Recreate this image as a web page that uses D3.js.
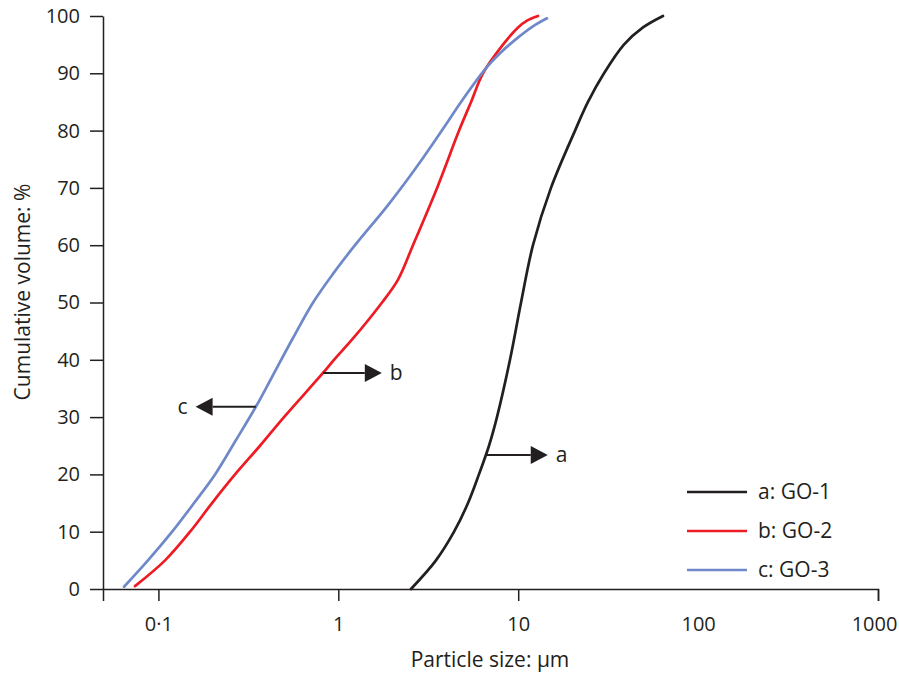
<!DOCTYPE html>
<html>
<head>
<meta charset="utf-8">
<script src="https://cdn.jsdelivr.net/npm/d3@7"></script>
<style>
  html, body { margin: 0; padding: 0; background: #fff; }
  svg { display: block; }
  text { font-family: "Open Sans", "Noto Sans", sans-serif; fill: #231f20; }
</style>
</head>
<body>
<svg id="chart" width="899" height="674"></svg>
<script>
// Cumulative particle size distributions of three graphene oxide samples
const seriesNames = ["a: GO-1", "b: GO-2", "c: GO-3"];
const seriesKeys = ["a", "b", "c"];
const seriesColors = ["#231f20", "#ed1c24", "#6f89c8"];

// particle size (µm) and cumulative volume (%) for each sample
const go1Size   = [2.535, 3.49, 4.40, 5.26, 6.05, 6.88, 7.62, 9.00, 10.37, 12.08, 15.21, 20.70, 24.43, 29.99, 38.7, 49.4, 63.8];
const go1Volume = [0,     5,    10,   15,   20,   25,   30,   40,   50,    60,    70,    80,    85,    90,    95,   98,   100];

const go2Size   = [0.0741, 0.1089, 0.150, 0.1986, 0.2667, 0.367, 0.499, 0.822, 0.946, 1.191, 1.750, 2.148, 2.600, 3.54, 4.69, 5.47, 6.37, 8.23, 9.98, 11.19, 12.88];
const go2Volume = [0.5,    5,      10,    15,     20,     25,    30,    37.7,  40,    43.5,  50,    54,    60,    70,   80,   85,   90,   95,   98,   99.2,  100];

const go3Size   = [0.0644, 0.0875, 0.1192, 0.1578, 0.2065, 0.270, 0.348, 0.428, 0.553, 0.724, 0.934, 1.238, 1.889, 2.773, 4.07, 4.81, 6.62, 7.92, 9.84, 12.08, 14.45];
const go3Volume = [0.4,    5,      10,     15,     20,     26,    31.8,  37,    43.5,  50,    55,    60,    67,    74,    81.6, 85,   90.9, 93.5, 96.1, 98.2,  99.6];

// callout arrows: start on the curve, tip at the label side
const arrowFrom  = [6.62, 0.822, 0.348];
const arrowTo    = [14.6, 1.745, 0.161];
const arrowLevel = [23.4, 37.7, 31.8];

const xTickValues = [0.1, 1, 10, 100, 1000];
const xTickLabels = ["0·1", "1", "10", "100", "1000"];
const yTickValues = [0, 10, 20, 30, 40, 50, 60, 70, 80, 90, 100];

const svg = d3.select("#chart");
const ink = "#231f20";
const font = "'Open Sans', 'Noto Sans', sans-serif";

const x = d3.scaleLog().domain([0.0492, 1000]).range([103, 878]);
const y = d3.scaleLinear().domain([0, 100]).range([589, 16]);

// y axis
const yAxis = svg.append("g")
  .attr("transform", "translate(103,0)")
  .call(d3.axisLeft(y).tickValues(yTickValues).tickSize(13).tickSizeOuter(0).tickPadding(10));
yAxis.attr("font-size", null).attr("font-family", null);
yAxis.selectAll("text").style("font-size", "20px").style("font-family", font).attr("fill", ink);

// x axis
const xAxis = svg.append("g")
  .attr("transform", "translate(0,589)")
  .call(d3.axisBottom(x).tickValues(xTickValues)
    .tickFormat((d, i) => xTickLabels[i])
    .tickSize(12).tickSizeOuter(12).tickPadding(16));
xAxis.attr("font-size", null).attr("font-family", null);
xAxis.selectAll("text").style("font-size", "20px").style("font-family", font).attr("fill", ink);
// the last label sits against the right edge
xAxis.selectAll(".tick").filter(d => d === 1000).select("text").attr("dx", -4);
xAxis.selectAll(".tick").filter(d => d === 100).select("line").remove();

svg.selectAll(".domain, .tick line").attr("stroke", ink).attr("stroke-width", 1.5);

// axis titles
svg.append("text")
  .attr("x", 490).attr("y", 667)
  .attr("text-anchor", "middle")
  .style("font-size", "21px")
  .text("Particle size: µm");

svg.append("text")
  .attr("transform", "translate(30,292) rotate(-90)")
  .attr("text-anchor", "middle")
  .style("font-size", "21px")
  .text("Cumulative volume: %");

// curves
const series = [
  go1Size.map((s, i) => [s, go1Volume[i]]),
  go2Size.map((s, i) => [s, go2Volume[i]]),
  go3Size.map((s, i) => [s, go3Volume[i]])
];

const line = d3.line()
  .x(d => x(d[0]))
  .y(d => y(d[1]))
  .curve(d3.curveCatmullRom.alpha(0.5));

svg.append("g").selectAll("path")
  .data(series)
  .join("path")
  .attr("d", line)
  .attr("fill", "none")
  .attr("stroke", (d, i) => seriesColors[i])
  .attr("stroke-width", 2.7)
  .attr("stroke-linecap", "round");

// callout arrows with their letters
const headLen = 17, headHalf = 9;
seriesKeys.forEach((key, i) => {
  const x0 = x(arrowFrom[i]);
  const x1 = x(arrowTo[i]);
  const yy = y(arrowLevel[i]);
  const dir = x1 > x0 ? 1 : -1;
  const g = svg.append("g");
  g.append("line")
    .attr("x1", x0).attr("y1", yy)
    .attr("x2", x1 - dir * headLen).attr("y2", yy)
    .attr("stroke", ink).attr("stroke-width", 2);
  g.append("path")
    .attr("d", d3.line()([[x1, yy], [x1 - dir * headLen, yy - headHalf], [x1 - dir * headLen, yy + headHalf]]) + "Z")
    .attr("fill", ink);
  g.append("text")
    .attr("x", x1 + dir * 8).attr("y", yy)
    .attr("dy", "0.32em")
    .attr("text-anchor", dir > 0 ? "start" : "end")
    .style("font-size", "21px")
    .text(key);
});

// legend
const legend = svg.append("g");
const legendRows = [492, 531, 570];
seriesNames.forEach((name, i) => {
  legend.append("line")
    .attr("x1", 687).attr("x2", 747)
    .attr("y1", legendRows[i]).attr("y2", legendRows[i])
    .attr("stroke", seriesColors[i]).attr("stroke-width", 2.7);
  legend.append("text")
    .attr("x", 758).attr("y", legendRows[i])
    .attr("dy", "0.35em")
    .style("font-size", "21px")
    .text(name);
});
</script>
</body>
</html>
